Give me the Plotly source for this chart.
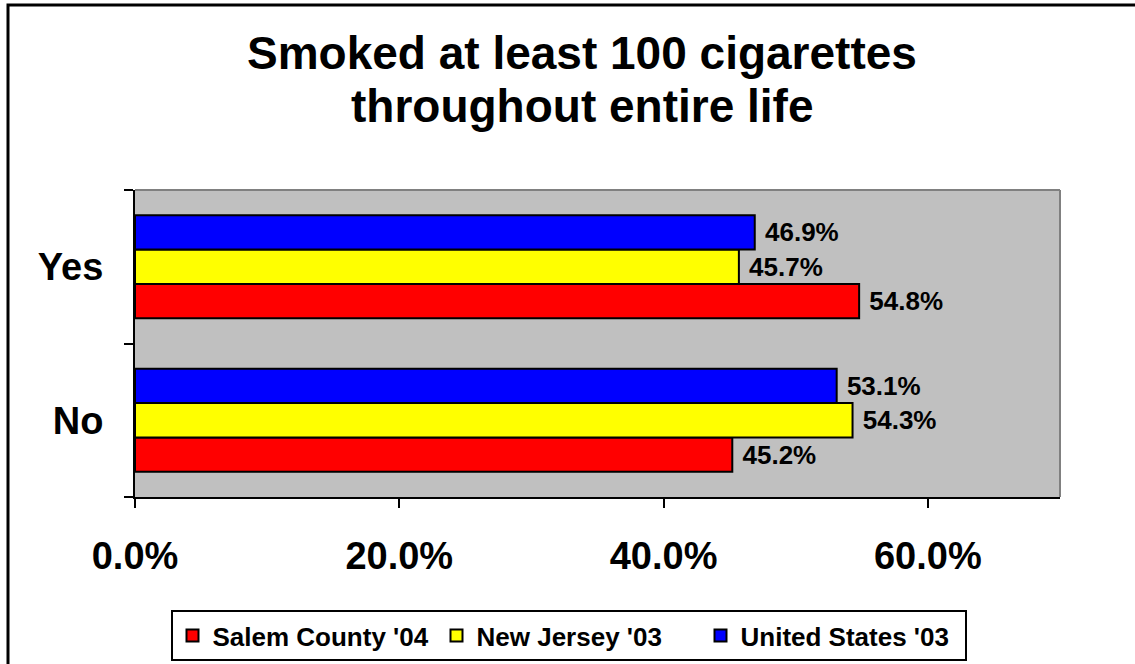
import plotly.graph_objects as go

categories = ["No", "Yes"]
series_names = ["Salem County '04", "New Jersey '03", "United States '03"]
salem = [45.2, 54.8]
new_jersey = [54.3, 45.7]
united_states = [53.1, 46.9]
colors = ["#FF0000", "#FFFF00", "#0000FF"]
x_ticks = [0, 20, 40, 60]
x_tick_labels = ["0.0%", "20.0%", "40.0%", "60.0%"]

FONT = "Liberation Sans, Arial, sans-serif"

fig = go.Figure()
for name, vals, col in zip(series_names, [salem, new_jersey, united_states], colors):
    fig.add_trace(go.Bar(
        y=categories, x=vals, name=name, orientation="h",
        marker=dict(color=col, line=dict(color="black", width=2)),
        texttemplate="\u00a0%{x:.1f}%", textposition="outside",
        textfont=dict(family=FONT, size=26, color="black", weight="bold"),
        cliponaxis=False,
    ))

W, H = 1135, 664
L, R, T, B = 135, 1060, 190, 497

fig.update_layout(
    width=W, height=H,
    margin=dict(l=L, r=W - R, t=T, b=H - B, autoexpand=False),
    paper_bgcolor="white", plot_bgcolor="#C0C0C0",
    barmode="group", bargap=0.33, bargroupgap=0,
    showlegend=True,
    legend=dict(
        orientation="h", xref="container", yref="container",
        x=568.5 / W, xanchor="center", y=1 - 610 / H, yanchor="top",
        bordercolor="black", borderwidth=2, bgcolor="white",
        font=dict(family=FONT, size=26, color="black", weight="bold"),
        traceorder="normal", entrywidth=219, entrywidthmode="pixels",
    ),
    xaxis=dict(
        range=[0, 70], tickvals=x_ticks, ticktext=x_tick_labels,
        showgrid=False, zeroline=False,
        showline=True, linecolor="black", linewidth=2,
        ticks="outside", ticklen=9, tickwidth=2, tickcolor="black",
        tickfont=dict(family=FONT, size=38, color="black", weight="bold"),
        ticklabelstandoff=15,
    ),
    yaxis=dict(
        categoryorder="array", categoryarray=categories,
        showgrid=False, zeroline=False,
        showline=True, linecolor="black", linewidth=2,
        ticks="outside", tickson="boundaries", ticklen=9, tickwidth=2, tickcolor="black",
        tickfont=dict(family=FONT, size=38, color="black", weight="bold"),
        ticklabelstandoff=22,
    ),
)

ph = B - T
pw = R - L
def py(p):
    return (B - p) / ph
def px(p):
    return (p - L) / pw

fig.add_annotation(text="Smoked at least 100 cigarettes", xref="paper", yref="paper",
                   x=px(582), y=py(53), xanchor="center", yanchor="middle", showarrow=False,
                   font=dict(family=FONT, size=46, color="black", weight="bold"))
fig.add_annotation(text="throughout entire life", xref="paper", yref="paper",
                   x=px(582), y=py(106), xanchor="center", yanchor="middle", showarrow=False,
                   font=dict(family=FONT, size=46, color="black", weight="bold"))

# plot area top and right border (gray)
fig.add_shape(type="line", xref="paper", yref="paper", x0=0, x1=1, y0=1, y1=1,
              line=dict(color="#808080", width=2))
fig.add_shape(type="line", xref="paper", yref="paper", x0=1, x1=1, y0=0, y1=1,
              line=dict(color="#808080", width=2))
# outer chart border
fig.add_shape(type="rect", xref="paper", yref="paper",
              x0=px(8), x1=px(1145), y0=py(675), y1=py(5),
              line=dict(color="black", width=3), layer="above")

fig.write_html("out.html", config={"displayModeBar": False},
               post_script="document.body.style.margin='0';document.body.style.overflow='hidden';")
